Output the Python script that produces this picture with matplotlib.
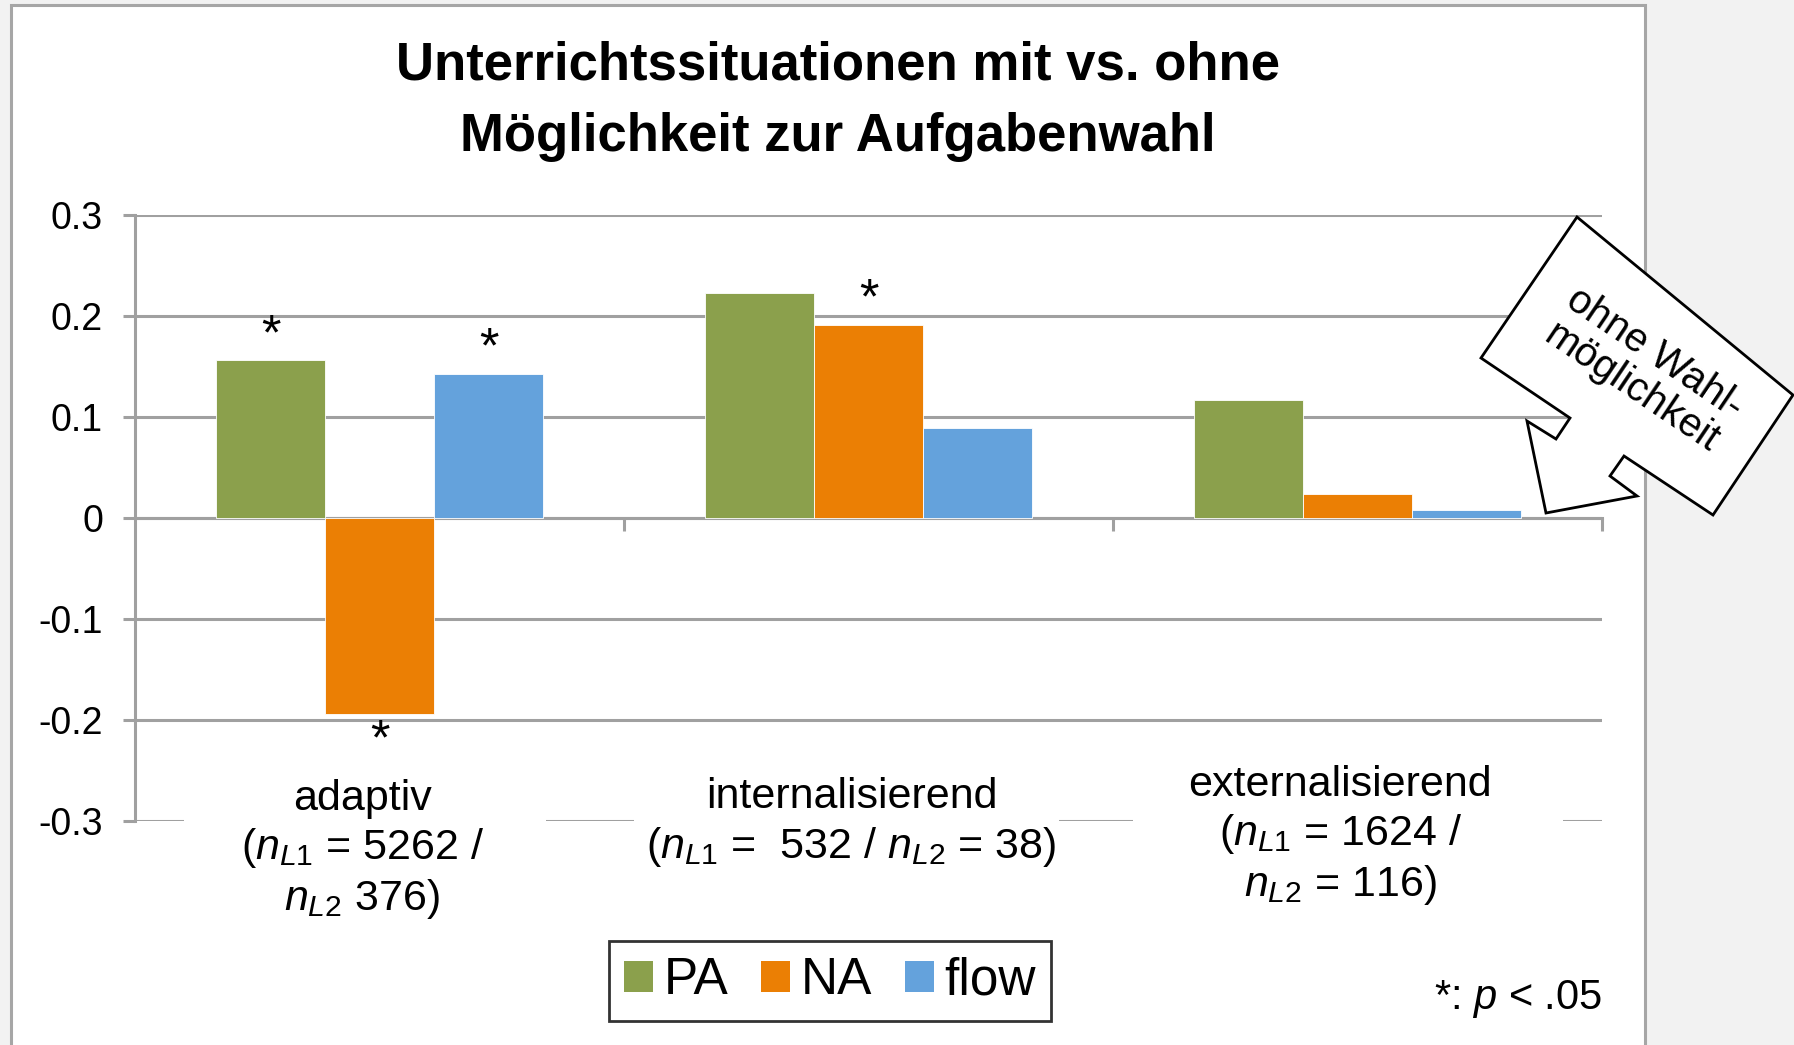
import numpy as np
import matplotlib
matplotlib.use("Agg")
import matplotlib.pyplot as plt
from matplotlib.patches import Rectangle, Polygon, Patch
from matplotlib import transforms

plt.rcParams["font.family"] = ["Liberation Sans", "DejaVu Sans"]
plt.rcParams["mathtext.fontset"] = "custom"
plt.rcParams["mathtext.rm"] = "Liberation Sans"
plt.rcParams["mathtext.it"] = "Liberation Sans:italic"

# Daten
categories = [
    "adaptiv\n($\\mathit{n_{L1}}$ = 5262 /\n$\\mathit{n_{L2}}$ 376)",
    "internalisierend\n($\\mathit{n_{L1}}$ =  532 / $\\mathit{n_{L2}}$ = 38)",
    "externalisierend\n($\\mathit{n_{L1}}$ = 1624 /\n$\\mathit{n_{L2}}$ = 116)",
]
series_names = ["PA", "NA", "flow"]
pa_values = [0.156, 0.223, 0.117]
na_values = [-0.194, 0.191, 0.024]
flow_values = [0.143, 0.089, 0.008]
pa_sig = [True, False, False]
na_sig = [True, True, False]
flow_sig = [True, False, False]
y_ticks = [-0.3, -0.2, -0.1, 0, 0.1, 0.2, 0.3]
y_ticklabels = ["-0.3", "-0.2", "-0.1", "0", "0.1", "0.2", "0.3"]

colors = ["#8BA04C", "#EB7F04", "#64A2DC"]
grid_col = "#A0A0A0"

W, H = 1794, 1045
fx = lambda px: px / W
fy = lambda py: 1 - py / H

fig = plt.figure(figsize=(W / 100, H / 100), dpi=100, facecolor="#F2F2F2")

# weisses Panel mit grauem Rand
panel = Rectangle((fx(11), fy(1080)), fx(1645) - fx(11), fy(5) - fy(1080),
                  transform=fig.transFigure, facecolor="white",
                  edgecolor="#A6A6A6", linewidth=2.2, zorder=-5)
fig.add_artist(panel)

ax = fig.add_axes([fx(135), fy(821), fx(1602) - fx(135), fy(215) - fy(821)])
ax.patch.set_alpha(0)

x = np.arange(len(categories))
w = 0.223
all_values = [pa_values, na_values, flow_values]
all_sig = [pa_sig, na_sig, flow_sig]
for k, (vals, sig) in enumerate(zip(all_values, all_sig)):
    pos = x + (k - 1) * w
    ax.bar(pos, vals, width=w, color=colors[k], edgecolor="white",
           linewidth=0.6, zorder=3)
    for p, v, s in zip(pos, vals, sig):
        if s:
            if v >= 0:
                ax.annotate("*", (p, v), xytext=(0, 1), textcoords="offset points",
                            ha="center", va="bottom", fontsize=36, zorder=4)
            else:
                ax.annotate("*", (p, v), xytext=(0, -3), textcoords="offset points",
                            ha="center", va="top", fontsize=36, zorder=4)

ax.set_xlim(-0.5, 2.5)
ax.set_ylim(-0.3, 0.3)
ax.set_yticks(y_ticks)
ax.set_yticklabels(y_ticklabels)
ax.set_axisbelow(True)
ax.yaxis.grid(True, color=grid_col, linewidth=2.2)
for s in ["top", "right"]:
    ax.spines[s].set_visible(False)
ax.spines["left"].set_color(grid_col)
ax.spines["left"].set_linewidth(2.2)
ax.spines["bottom"].set_position(("data", 0))
ax.spines["bottom"].set_color(grid_col)
ax.spines["bottom"].set_linewidth(2.2)
ax.tick_params(axis="y", length=9, width=2.2, color=grid_col, pad=14, labelsize=27)
ax.set_xticks([0.5, 1.5, 2.5])
ax.set_xticklabels([])
ax.tick_params(axis="x", length=9, width=2.2, color=grid_col, direction="out")

# Kategorienbeschriftungen (mit weissem Hintergrund ueber der -0.3-Linie)
blend = transforms.blended_transform_factory(ax.transData, ax.transAxes)
gaps = [(-0.40, 0.34), (0.52, 1.39), (1.54, 2.42)]
for g0, g1 in gaps:
    ax.add_patch(Rectangle((g0, -0.015), g1 - g0, 0.03, transform=blend,
                           facecolor="white", edgecolor="none", zorder=1,
                           clip_on=False))
lab_tr = transforms.blended_transform_factory(ax.transData, fig.transFigure)
lab_y = [850, 823, 836]
for i, (lab, yy) in enumerate(zip(categories, lab_y)):
    ax.text(i - 0.035, fy(yy), lab, transform=lab_tr, ha="center", va="center",
            multialignment="center", fontsize=31, linespacing=1.22, zorder=5)

# Titel
fig.text(fx(838), fy(101), "Unterrichtssituationen mit vs. ohne\nMöglichkeit zur Aufgabenwahl",
         ha="center", va="center", fontsize=38, fontweight="bold", linespacing=1.55)

# Legende
handles = [Patch(facecolor=c, edgecolor="none") for c in colors]
leg = fig.legend(handles, series_names, loc="center", ncol=3,
                 bbox_to_anchor=(fx(830), fy(981)), fontsize=37, frameon=True,
                 fancybox=False, handlelength=0.56, handleheight=0.56,
                 handletextpad=0.2, columnspacing=0.65, borderpad=0.3,
                 borderaxespad=0.0)
leg.get_frame().set_edgecolor("black")
leg.get_frame().set_linewidth(2)

fig.text(fx(1602), fy(999), "*: $\\mathit{p}$ < .05", ha="right", va="center", fontsize=30)

# Sprechblase
pts = [(1481, 358), (1577, 217), (1793, 395), (1713, 515), (1624, 456),
       (1610, 476), (1637, 496), (1546, 513), (1527, 421), (1556, 439),
       (1570, 418)]
callout = Polygon([(fx(a), fy(b)) for a, b in pts], closed=True,
                  transform=fig.transFigure, facecolor="white", edgecolor="black",
                  linewidth=2, zorder=10)
fig.add_artist(callout)
fig.text(fx(1643), fy(370), "ohne Wahl-\nmöglichkeit", rotation=-34,
         rotation_mode="anchor", ha="center", va="center", fontsize=29,
         linespacing=1.12, zorder=11)

fig.savefig("out.png", dpi=100, facecolor=fig.get_facecolor())
